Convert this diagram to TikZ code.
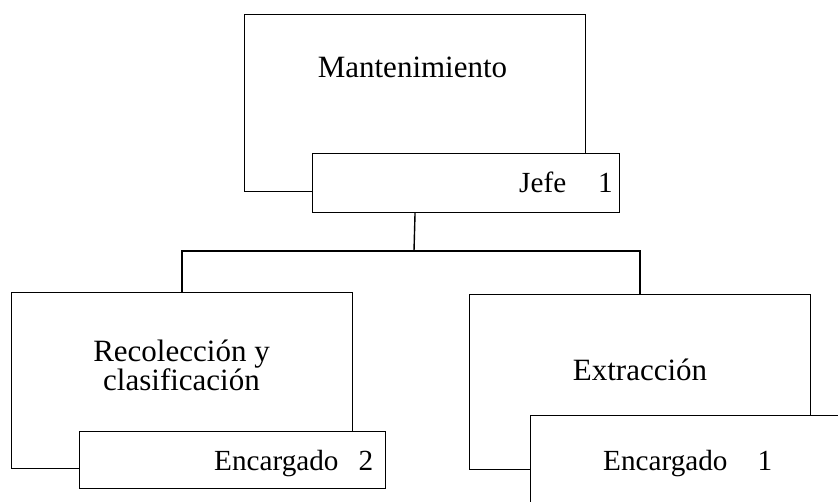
\documentclass[tikz,border=0pt]{standalone}
\usepackage{fontspec}
\setmainfont{Liberation Serif}
\begin{document}
\begin{tikzpicture}[x=1pt,y=-1pt,
  box/.style={draw, line width=1.1pt, fill=white, anchor=north west, inner sep=0pt},
  lbl/.style={anchor=base, inner sep=0pt, font=\fontsize{31}{24}\selectfont},
  slbl/.style={anchor=base west, inner sep=0pt, font=\fontsize{29.2}{24}\selectfont},
  conn/.style={line width=1.4pt}]
\useasboundingbox (0,0) rectangle (838,501);
\clip (0,0) rectangle (838,501);
\fill[white] (0,0) rectangle (838,501);
% top
\node[box, minimum width=341pt, minimum height=177pt] (main) at (244,14) {};
\node[box, minimum width=307pt, minimum height=59pt] (jefe) at (312,152.5) {};
\node[lbl] (tmain) at (412.5,77) {Mantenimiento};
\node[slbl] (tjefe) at (519,192) {Jefe\hspace{32pt}1};
% left
\node[box, minimum width=341pt, minimum height=176pt] (rec) at (11,292) {};
\node[box, minimum width=306pt, minimum height=57pt] (enc2) at (79,431) {};
\node[lbl] (trec) at (181.5,361) {Recolección y};
\node[lbl] (tcla) at (181.5,390) {clasificación};
\node[slbl] (tenc2) at (214,470) {Encargado\hspace{20pt}2};
% right
\node[box, minimum width=341pt, minimum height=175pt] (ext) at (469,294) {};
\node[box, minimum width=330pt, minimum height=110pt] (enc1) at (530,415) {};
\node[lbl] (text) at (640,380) {Extracción};
\node[slbl] (tenc1) at (603,470) {Encargado\hspace{30pt}1};
% connectors
\coordinate (bus) at (414,251);
\draw[conn] (main.south |- jefe.south) -- (bus);
\draw[conn] (bus) -| (rec.north);
\draw[conn] (bus) -| (ext.north);
\end{tikzpicture}
\end{document}
